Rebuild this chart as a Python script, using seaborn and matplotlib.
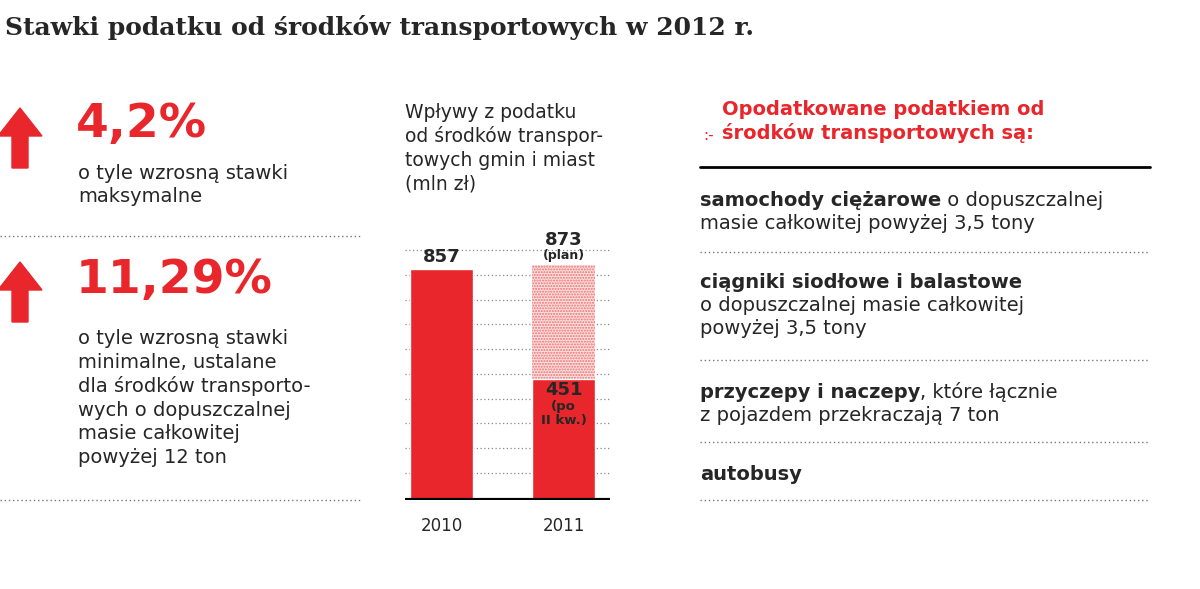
import matplotlib.pyplot as plt
import matplotlib.patches as mpatches
import seaborn as sns
import pandas as pd

years = ["2010", "2011"]
total = [857, 873]
after_q2 = [None, 451]
total_labels = ["857", "873"]

RED = "#e8262b"
sns.set_theme(style="white", font="DejaVu Sans")

fig = plt.figure(figsize=(12, 5.89), dpi=100)

def fx(x):
    return x / 1200

def fy(y):
    return 1 - y / 589

fig.text(fx(5), fy(27), "Stawki podatku od środków transportowych w 2012 r.",
         fontsize=18, fontweight="heavy", family="DejaVu Serif", va="center")

# left column: red up arrows
for x, y in [(20, 108), (20, 262)]:
    fig.patches.append(mpatches.Polygon(
        [(fx(x - 22), fy(y + 28)), (fx(x), fy(y)), (fx(x + 22), fy(y + 28)),
         (fx(x + 8), fy(y + 28)), (fx(x + 8), fy(y + 60)), (fx(x - 8), fy(y + 60)),
         (fx(x - 8), fy(y + 28))], closed=True, color=RED, transform=fig.transFigure))

fig.text(fx(76), fy(125), "4,2%", fontsize=34, fontweight="bold", color=RED, va="center")
fig.text(fx(78), fy(185), "o tyle wzrosną stawki\nmaksymalne", fontsize=14, va="center",
         linespacing=1.3)
fig.text(fx(76), fy(280), "11,29%", fontsize=34, fontweight="bold", color=RED, va="center")
fig.text(fx(78), fy(398), "o tyle wzrosną stawki\nminimalne, ustalane\ndla środków transporto-\n"
         "wych o dopuszczalnej\nmasie całkowitej\npowyżej 12 ton", fontsize=14, va="center",
         linespacing=1.3)
for y in [236, 500]:
    fig.add_artist(plt.Line2D([0, fx(362)], [fy(y), fy(y)], color="#777777", lw=1,
                              ls=(0, (1, 2)), transform=fig.transFigure))

# middle chart
fig.text(fx(405), fy(148), "Wpływy z podatku\nod środków transpor-\ntowych gmin i miast\n(mln zł)",
         fontsize=13.5, va="center", linespacing=1.3)

ax = fig.add_axes([fx(405), fy(500), fx(205), (fy(0) - fy(264))])
df = pd.DataFrame({"year": years, "total": total})
sns.barplot(data=df, x="year", y="total", ax=ax, width=0.52, color=RED, saturation=1)
bars = ax.patches
bars[1].set_facecolor("#fbe0e0")
bars[1].set_hatch("......")
bars[1].set_edgecolor("#ef6f6f")
bars[1].set_linewidth(0)
ax.bar([1], [after_q2[1]], width=0.52, color=RED, zorder=3)
ax.set_ylim(0, 980)
ax.set_xlim(-0.30, 1.38)
for v in range(100, 1000, 92):
    ax.axhline(v, color="#888888", lw=0.9, ls=(0, (1, 2)), zorder=0)
ax.axhline(0, color="black", lw=3, zorder=4)
ax.set_xlabel("")
ax.set_ylabel("")
ax.set_yticks([])
ax.tick_params(axis="x", length=0, labelsize=12, pad=12)
sns.despine(ax=ax, left=True, bottom=True)
ax.text(0, total[0] + 12, total_labels[0], ha="center", va="bottom", fontsize=13, fontweight="bold")
ax.text(1, total[1] + 60, total_labels[1], ha="center", va="bottom", fontsize=13, fontweight="bold")
ax.text(1, total[1] + 12, "(plan)", ha="center", va="bottom", fontsize=9, fontweight="bold")
ax.text(1, after_q2[1] - 8, "451", ha="center", va="top", fontsize=13, fontweight="bold", zorder=5)
ax.text(1, after_q2[1] - 80, "(po\nII kw.)", ha="center", va="top", fontsize=9.5,
        fontweight="bold", linespacing=1.1, zorder=5)

# right column
fig.text(fx(722), fy(121), "Opodatkowane podatkiem od\nśrodków transportowych są:",
         fontsize=14, fontweight="bold", color=RED, va="center", linespacing=1.25)
fig.text(fx(703), fy(136), ":-", fontsize=11, color=RED, va="center")
fig.add_artist(plt.Line2D([fx(700), fx(1150)], [fy(167), fy(167)], color="black", lw=2,
                          transform=fig.transFigure))
items = [
    (200, [("samochody ciężarowe", True), (" o dopuszczalnej", False)], "masie całkowitej powyżej 3,5 tony"),
    (282, [("ciągniki siodłowe i balastowe", True)], "o dopuszczalnej masie całkowitej\npowyżej 3,5 tony"),
    (392, [("przyczepy i naczepy", True), (", które łącznie", False)], "z pojazdem przekraczają 7 ton"),
    (475, [("autobusy", True)], ""),
]
for y0, first, rest in items:
    t = None
    for s, bold in first:
        xpos = fx(700) if t is None else None
        if t is not None:
            fig.canvas.draw()
            xpos = t.get_window_extent().x1 / fig.bbox.width
        t = fig.text(xpos, fy(y0), s, fontsize=14, fontweight="bold" if bold else "normal",
                     va="center")
    if rest:
        fig.text(fx(700), fy(y0 + 14), rest, fontsize=14, va="top", linespacing=1.3)
for y in [252, 360, 442, 500]:
    fig.add_artist(plt.Line2D([fx(700), fx(1150)], [fy(y), fy(y)], color="#777777", lw=1,
                              ls=(0, (1, 2)), transform=fig.transFigure))

fig.savefig("out.png", dpi=100, facecolor="white")
